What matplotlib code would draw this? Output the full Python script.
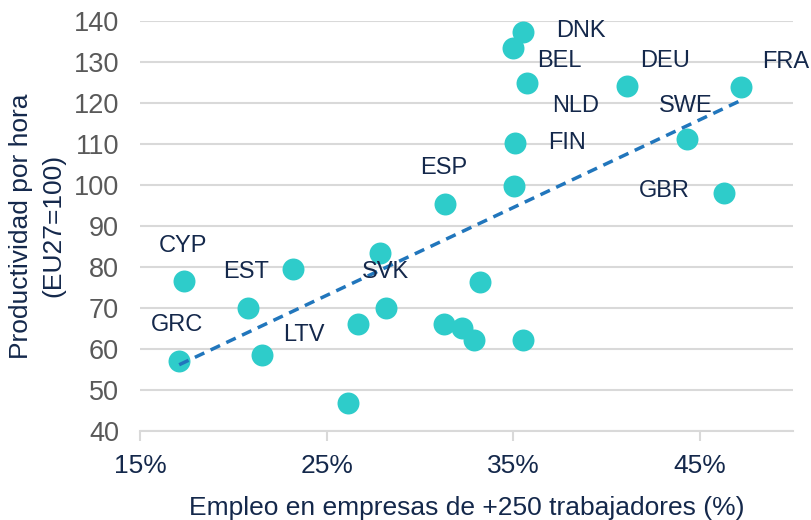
import matplotlib.pyplot as plt
import numpy as np
from matplotlib.ticker import FuncFormatter

# ====== datos ======
empleo = [35.55, 35.0, 35.73, 41.1, 47.2, 44.3, 35.1, 35.07, 46.3, 31.35,
          17.38, 23.22, 27.87, 20.8, 28.2, 26.7, 21.56, 17.1, 26.14,
          33.2, 31.3, 32.25, 32.9, 35.55]
productividad = [137.2, 133.4, 124.9, 124.1, 123.8, 111.1, 110.2, 99.8, 97.9, 95.3,
                 76.5, 79.4, 83.4, 70.0, 70.0, 66.0, 58.5, 57.1, 46.8,
                 76.2, 66.0, 65.0, 62.1, 62.1]

etiquetas = ['DNK', 'BEL', 'DEU', 'FRA', 'NLD', 'SWE', 'FIN', 'ESP', 'GBR',
             'CYP', 'EST', 'SVK', 'GRC', 'LTV']
etiq_x = [37.3, 36.27, 41.8, 48.37, 37.07, 42.8, 36.9, 30.0, 41.75,
          16.03, 19.47, 26.9, 15.57, 22.65]
etiq_y = [137.6, 130.3, 130.3, 130.0, 119.2, 119.2, 110.3, 104.1, 98.5,
          85.0, 78.8, 78.7, 65.8, 63.3]

x_ticks = [15, 25, 35, 45]
y_ticks = list(range(40, 141, 10))
# ===================

teal = '#2ECCCA'
navy = '#14284B'
gris = '#595959'
grid_c = '#D9D9D9'

plt.rcParams['font.family'] = ['Liberation Sans', 'DejaVu Sans']

fig = plt.figure(figsize=(8.12, 5.2), dpi=100)
ax = fig.add_axes([0.1724, 0.1717, 0.9766 - 0.1724, 0.960 - 0.1717])

ax.scatter(empleo, productividad, s=250, color=teal, zorder=3, linewidths=0)

# linea de tendencia (minimos cuadrados)
m, b = np.polyfit(empleo, productividad, 1)
xs = np.array([min(empleo), max(empleo)])
ax.plot(xs, m * xs + b, linestyle=(0, (3, 2)), color='#2176BC', lw=2.5, zorder=4)

for t, x, y in zip(etiquetas, etiq_x, etiq_y):
    ax.text(x, y, t, fontsize=17, color=navy, ha='left', va='center', zorder=5,
            clip_on=False)

ax.set_xlim(15, 50)
ax.set_ylim(40, 140)
ax.set_xticks(x_ticks)
ax.set_yticks(y_ticks)
ax.xaxis.set_major_formatter(FuncFormatter(lambda v, p: f'{v:.0f}%'))
ax.grid(axis='y', color=grid_c, lw=1.5, zorder=0)
ax.set_axisbelow(True)
for s in ['top', 'right', 'left']:
    ax.spines[s].set_visible(False)
ax.spines['bottom'].set_color(grid_c)
ax.spines['bottom'].set_linewidth(1.5)
ax.tick_params(axis='y', length=0, pad=15, labelsize=19.5, labelcolor=gris)
ax.tick_params(axis='x', length=7, width=1.5, color=grid_c, pad=10,
               labelsize=19, labelcolor=navy)

ax.set_xlabel('Empleo en empresas de +250 trabajadores (%)', fontsize=19,
              color=navy, labelpad=13)
ax.set_ylabel('Productividad por hora\n(EU27=100)', fontsize=19,
              color=navy, labelpad=6, linespacing=1.45)

plt.savefig('out.png', dpi=100)
